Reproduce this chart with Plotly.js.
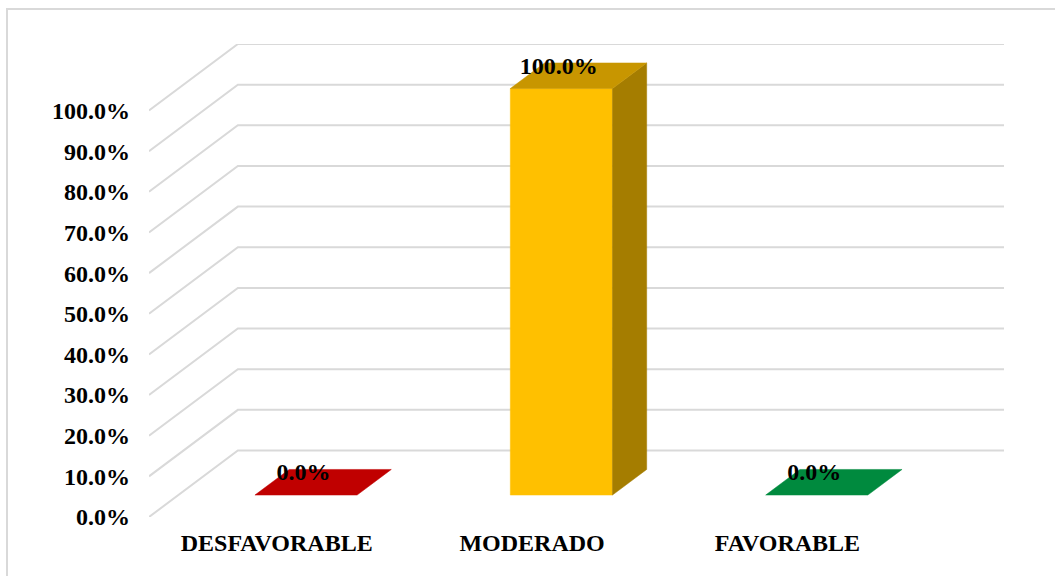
<!DOCTYPE html>
<html>
<head>
<meta charset="utf-8">
<script src="https://cdn.plot.ly/plotly-3.0.1.min.js"></script>
<style>
  html, body { margin: 0; padding: 0; background: #fff; }
  #wrap { position: relative; width: 1055px; height: 576px; overflow: hidden; }
  #chart { width: 1055px; height: 576px; }
  #frame { position: absolute; left: 6px; top: 8px; width: 1080px; height: 600px;
           border: 2px solid #d9d9d9; pointer-events: none; box-sizing: border-box; }
</style>
</head>
<body>
<div id="wrap"><div id="chart"></div><div id="frame"></div></div>
<script>
// ---- data ----
var categories = ['DESFAVORABLE', 'MODERADO', 'FAVORABLE'];
var values = [0.0, 100.0, 0.0];
var tickValues = [0, 10, 20, 30, 40, 50, 60, 70, 80, 90, 100];
var tickLabels = ['0.0%', '10.0%', '20.0%', '30.0%', '40.0%', '50.0%', '60.0%', '70.0%', '80.0%', '90.0%', '100.0%'];
var dataLabels = ['0.0%', '100.0%', '0.0%'];

// ---- styles ----
var frontColors = ['#C00000', '#FFC000', '#008A3E'];
var topColors   = ['#C00000', '#C89600', '#008A3E'];
var sideColors  = ['#8A0000', '#A57D00', '#006530'];
var gridColor = '#d9d9d9';
var FONT = 'Liberation Serif, Times New Roman, serif';
var FS = 24;

// pseudo-3D projection parameters (in axis units)
var depthX = 0.348, depthY = 16.36;   // full floor depth offset
var zFront = 0.33, zBack = 0.715;     // bar depth within floor
var halfW = 0.2;
var yTop = tickValues[tickValues.length - 1];
var xMin = -0.5, xMax = categories.length - 0.5 + depthX;

function P(x, y, z) { return [x + z * depthX, y + z * depthY]; }

var traces = [];

// back wall gridlines + left wall diagonals
tickValues.forEach(function (v) {
  var a = P(xMin, v, 0), b = P(xMin, v, 1);
  traces.push({ type: 'scatter', mode: 'lines', x: [a[0], b[0], xMax], y: [a[1], b[1], b[1]],
    line: { color: gridColor, width: 2 }, hoverinfo: 'skip', showlegend: false, cliponaxis: false });
});

function poly(pts, color) {
  var xs = pts.map(function (p) { return p[0]; });
  var ys = pts.map(function (p) { return p[1]; });
  xs.push(xs[0]); ys.push(ys[0]);
  return { type: 'scatter', mode: 'lines', x: xs, y: ys, fill: 'toself', fillcolor: color,
    line: { color: color, width: 0.5 }, hoverinfo: 'skip', showlegend: false };
}

values.forEach(function (v, i) {
  var l = i - halfW, r = i + halfW;
  var ftl = P(l, v, zFront), ftr = P(r, v, zFront), fbl = P(l, 0, zFront), fbr = P(r, 0, zFront);
  var btl = P(l, v, zBack), btr = P(r, v, zBack), bbr = P(r, 0, zBack);
  if (v > 0) {
    traces.push(poly([fbl, fbr, ftr, ftl], frontColors[i]));
    traces.push(poly([fbr, bbr, btr, ftr], sideColors[i]));
  }
  traces.push(poly([ftl, ftr, btr, btl], topColors[i]));
});

// data labels
traces.push({
  type: 'scatter', mode: 'text',
  x: values.map(function (v, i) { return P(i, v, zFront)[0] - 0.01; }),
  y: values.map(function (v, i) { return P(i, v, zBack)[1] - 1.2; }),
  text: dataLabels, textposition: 'middle center',
  textfont: { family: FONT, size: FS, color: '#000', weight: 'bold' },
  hoverinfo: 'skip', showlegend: false, cliponaxis: false
});

var layout = {
  width: 1055, height: 576,
  margin: { l: 149, r: 50.5, t: 44, b: 59 },
  paper_bgcolor: '#fff', plot_bgcolor: 'rgba(0,0,0,0)',
  showlegend: false,
  font: { family: FONT, color: '#000' },
  xaxis: {
    range: [xMin, xMax], showgrid: false, zeroline: false, showline: false,
    tickmode: 'array', tickvals: categories.map(function (c, i) { return i; }), ticktext: categories,
    tickfont: { family: FONT, size: FS, color: '#000', weight: 'bold' },
    ticks: '', ticklabelstandoff: 9, fixedrange: true
  },
  yaxis: {
    range: [0, yTop + depthY], showgrid: false, zeroline: false, showline: false,
    tickmode: 'array', tickvals: tickValues, ticktext: tickLabels,
    tickfont: { family: FONT, size: FS, color: '#000', weight: 'bold' },
    ticks: '', ticklabelstandoff: 18, fixedrange: true
  }
};

Plotly.newPlot('chart', traces, layout, { displayModeBar: false, staticPlot: true });
</script>
</body>
</html>
